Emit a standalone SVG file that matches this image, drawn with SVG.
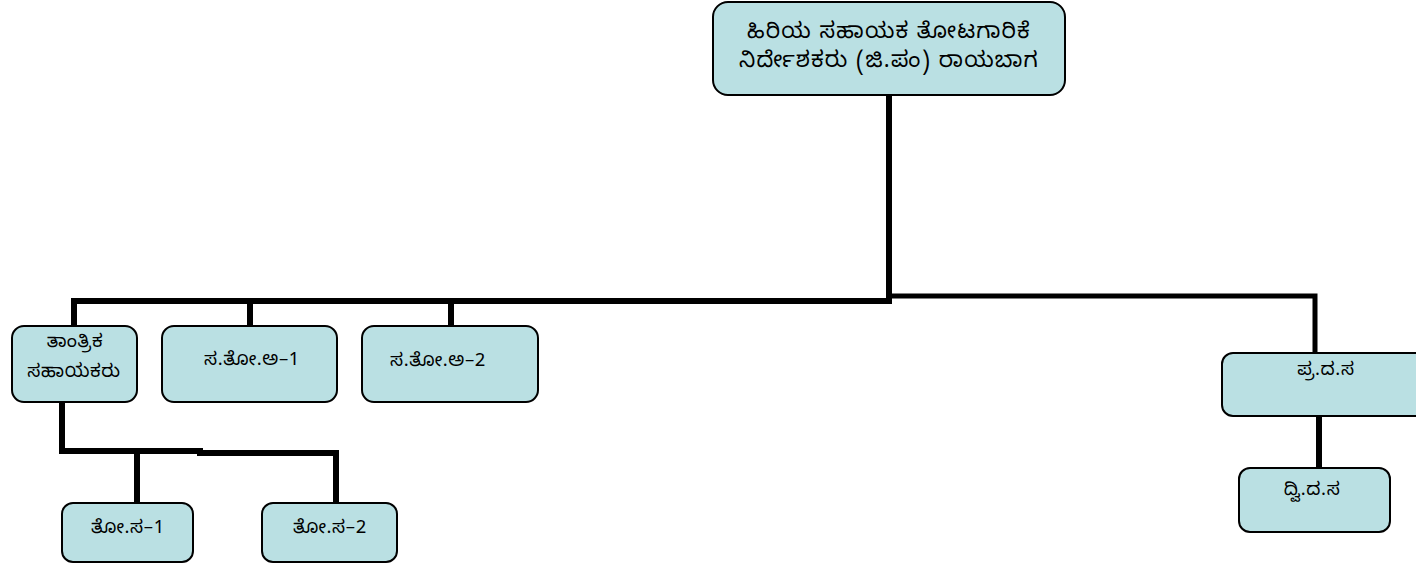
<svg xmlns="http://www.w3.org/2000/svg" width="1416" height="566" viewBox="0 0 1416 566">
<style>
.box{fill:#BAE0E3;stroke:#000;stroke-width:2}
.t{font-family:"Noto Sans Kannada","Noto Sans","DejaVu Sans","Liberation Sans",sans-serif;font-size:18.5px;letter-spacing:0.6px;fill:#000;text-anchor:middle}
.tl{font-size:22px;letter-spacing:1.2px}
.c{fill:none;stroke:#000;stroke-width:6;stroke-linecap:square}
</style>
<rect width="1416" height="566" fill="#fff"/>
<g id="connectors">
<polyline class="c" points="889,96 889,301 74,301 74,324"/>
<line class="c" x1="250" y1="301" x2="250" y2="324"/>
<line class="c" x1="451" y1="301" x2="451" y2="324"/>
<polyline class="c" points="889,296 1315,296 1315,352" style="stroke-width:5"/>
<line class="c" x1="1319" y1="417" x2="1319" y2="467"/>
<polyline class="c" points="62,403 62,451 200,451"/>
<polyline class="c" points="200,453 336,453 336,502"/>
<line class="c" x1="137" y1="451" x2="137" y2="502"/>
</g>
<g id="n-top">
<rect class="box" x="713" y="2" width="352" height="93" rx="15"/>
<text class="t tl" x="889" y="38">ಹಿರಿಯ ಸಹಾಯಕ ತೋಟಗಾರಿಕೆ</text>
<text class="t tl" x="889" y="67">ನಿರ್ದೇಶಕರು (ಜಿ.ಪಂ) ರಾಯಬಾಗ</text>
</g>
<g id="n-tantrika">
<rect class="box" x="12" y="326" width="125" height="76" rx="12"/>
<text class="t" x="75" y="347">ತಾಂತ್ರಿಕ</text>
<text class="t" x="74" y="377">ಸಹಾಯಕರು</text>
</g>
<g id="n-sta1">
<rect class="box" x="162" y="326" width="175" height="76" rx="12"/>
<text class="t" x="252" y="365">ಸ.ತೋ.ಅ–1</text>
</g>
<g id="n-sta2">
<rect class="box" x="362" y="326" width="176" height="76" rx="12"/>
<text class="t" x="438" y="366">ಸ.ತೋ.ಅ–2</text>
</g>
<g id="n-tos1">
<rect class="box" x="62" y="503" width="131" height="59" rx="11"/>
<text class="t" x="128" y="533">ತೋ.ಸ–1</text>
</g>
<g id="n-tos2">
<rect class="box" x="262" y="503" width="135" height="59" rx="11"/>
<text class="t" x="330" y="533">ತೋ.ಸ–2</text>
</g>
<g id="n-prads">
<rect class="box" x="1222" y="353" width="210" height="63" rx="11"/>
<text class="t" x="1326" y="375">ಪ್ರ.ದ.ಸ</text>
</g>
<g id="n-dvids">
<rect class="box" x="1239" y="468" width="151" height="64" rx="11"/>
<text class="t" x="1312" y="495">ದ್ವಿ.ದ.ಸ</text>
</g>
</svg>
